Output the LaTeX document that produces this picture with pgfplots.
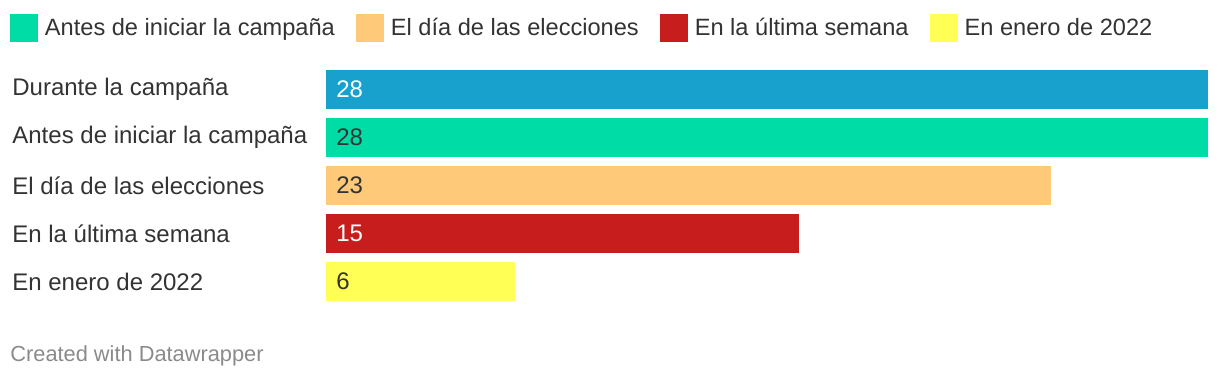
\documentclass[border=0pt]{standalone}
\usepackage{pgfplots}
\pgfplotsset{compat=1.18}
\usepackage{fontspec}
\setmainfont{Liberation Sans}
\definecolor{cblue}{HTML}{18A1CD}
\definecolor{cgreen}{HTML}{00DCA6}
\definecolor{corange}{HTML}{FEC978}
\definecolor{cred}{HTML}{C71E1D}
\definecolor{cyellow}{HTML}{FFFF55}
\definecolor{textgray}{HTML}{333333}
\definecolor{footgray}{HTML}{8A8A8A}
\pgfplotsset{
  mybar/.style={xbar, bar width=19.5pt, bar shift=0pt, draw=none,
    legend image code/.code={\fill[##1] (0pt,-7pt) rectangle (14pt,7pt);}},
}
\begin{document}
\begin{tikzpicture}
\useasboundingbox (0,0) rectangle (610pt,189pt);
\begin{axis}[
  at={(163pt,36.25pt)}, anchor=south west,
  scale only axis, width=441pt, height=120pt,
  xmin=0, xmax=28, ymin=-0.5, ymax=4.5, y dir=reverse,
  clip=false,
  axis line style={draw=none}, tick style={draw=none},
  xtick=\empty,
  ytick={0,1,2,3,4},
  yticklabels={Durante la campaña, Antes de iniciar la campaña, El día de las elecciones, En la última semana, En enero de 2022},
  yticklabel style={anchor=west, xshift=-157pt, inner xsep=0pt, text=textgray, font=\fontsize{12pt}{14pt}\selectfont},
  legend columns=4,
  legend style={at={(-0.3583,1.2146)}, anchor=north west, draw=none, fill=none,
    inner sep=0pt, outer sep=0pt, column sep=0pt,
    font=\fontsize{11.8pt}{14pt}\selectfont,
    nodes={inner sep=0pt, text=textgray},
    /tikz/every odd column/.append style={column sep=3.5pt},
    /tikz/every even column/.append style={column sep=10.5pt}},
  legend cell align=left,
]
\addplot[mybar, fill=cblue, forget plot] coordinates {(28,0)};
\addplot[mybar, fill=cgreen] coordinates {(28,1)};
\addplot[mybar, fill=corange] coordinates {(23,2)};
\addplot[mybar, fill=cred] coordinates {(15,3)};
\addplot[mybar, fill=cyellow] coordinates {(6,4)};
\legend{Antes de iniciar la campaña, El día de las elecciones, En la última semana, En enero de 2022}
\addplot[forget plot, draw=none, mark=none, nodes near coords, point meta=explicit symbolic,
  nodes near coords style={anchor=west, xshift=5pt, inner xsep=0pt, font=\fontsize{12pt}{14pt}\selectfont}]
  coordinates {(0,0) [\textcolor{white}{28}] (0,1) [\textcolor{textgray}{28}] (0,2) [\textcolor{textgray}{23}] (0,3) [\textcolor{white}{15}] (0,4) [\textcolor{textgray}{6}]};
\end{axis}
\node[anchor=base west, inner sep=0pt, text=footgray, font=\fontsize{10.9pt}{13pt}\selectfont] at (5pt,8pt) {Created with Datawrapper};
\end{tikzpicture}
\end{document}
